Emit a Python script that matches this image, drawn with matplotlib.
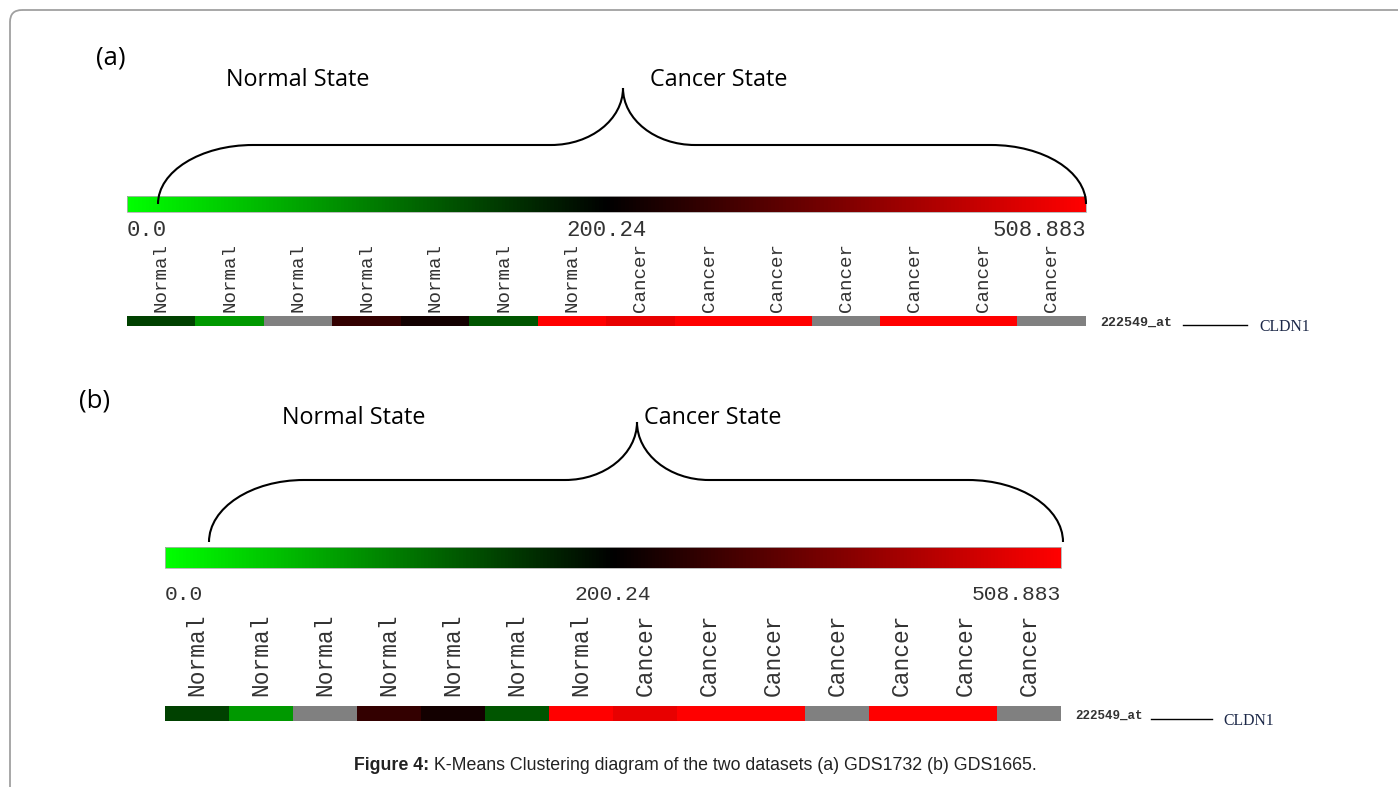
import numpy as np
import matplotlib
matplotlib.use("Agg")
import matplotlib.pyplot as plt
from matplotlib.colors import LinearSegmentedColormap, TwoSlopeNorm
from matplotlib.cm import ScalarMappable
from matplotlib.path import Path
from matplotlib.patches import PathPatch, FancyBboxPatch

# ---------------- data ----------------
samples = ["Normal"] * 7 + ["Cancer"] * 7
scale_ticks = [0.0, 200.24, 508.883]
scale_labels = ["0.0", "200.24", "508.883"]
# CLDN1 (probe 222549_at) expression per sample; NaN = missing value
expr_gds1732 = [150.0, 80.1, np.nan, 262.0, 222.0, 133.5, 508.883,
                480.0, 508.883, 508.883, np.nan, 508.883, 508.883, np.nan]
expr_gds1665 = [150.0, 80.1, np.nan, 262.0, 222.0, 133.5, 508.883,
                480.0, 508.883, 508.883, np.nan, 508.883, 508.883, np.nan]
probe_id = "222549_at"
gene = "CLDN1"

W, H = 1398, 787
fig = plt.figure(figsize=(W / 100, H / 100), dpi=100)
fig.patch.set_facecolor("white")

cmap = LinearSegmentedColormap.from_list("gbr", ["#00ff00", "#000000", "#ff0000"])
cmap.set_bad("#808080")
norm = TwoSlopeNorm(vmin=scale_ticks[0], vcenter=scale_ticks[1], vmax=scale_ticks[2])


def rect(x0, y0, x1, y1):
    return [x0 / W, 1 - y1 / H, (x1 - x0) / W, (y1 - y0) / H]


mono = "Liberation Mono"
txt_col = "#333333"


def panel(bar, tick_y, heat, values, label_fs, tick_fs, label_pad):
    # colour scale bar
    cax = fig.add_axes(rect(*bar))
    cb = fig.colorbar(ScalarMappable(norm=norm, cmap=cmap), cax=cax,
                      orientation="horizontal")
    cb.set_ticks([])
    cb.outline.set_edgecolor("#b0b0b0")
    cb.outline.set_linewidth(0.6)
    # scale values below the bar
    aligns = ["left", "center", "right"]
    for v, s, ha in zip(scale_ticks, scale_labels, aligns):
        xf = cax.transData.transform((v, 0))[0]
        xr = fig.transFigure.inverted().transform((xf, 0))[0]
        fig.text(xr, 1 - tick_y / H, s, ha=ha, va="center", family=mono,
                 fontsize=tick_fs, color=txt_col)

    # expression row
    hax = fig.add_axes(rect(*heat))
    hax.imshow(np.ma.masked_invalid(np.array(values)[None, :]), cmap=cmap,
               norm=norm, aspect="auto", interpolation="nearest")
    hax.set_yticks([])
    hax.xaxis.tick_top()
    hax.set_xticks(range(len(samples)))
    hax.set_xticklabels(samples, rotation=90, family=mono, fontsize=label_fs,
                        color=txt_col)
    hax.tick_params(axis="x", length=0, pad=label_pad)
    for sp in hax.spines.values():
        sp.set_visible(False)
    return cax, hax


panel((127, 196, 1086, 212), 231, (127, 316, 1086, 326), expr_gds1732,
      13.8, 16, 3)
panel((165, 547, 1061, 568), 594, (165, 706, 1061, 721), expr_gds1665,
      16.5, 15.3, 7)

# overlay for annotations (pixel coordinates)
ov = fig.add_axes([0, 0, 1, 1], zorder=10)
ov.set_xlim(0, W)
ov.set_ylim(H, 0)
ov.axis("off")
ov.patch.set_alpha(0)

frame = FancyBboxPatch((10, 10), 1430, 820, boxstyle="round,pad=0,rounding_size=12",
                       fill=False, edgecolor="#a0a0a0", linewidth=1.3)
ov.add_patch(frame)


def brace(xl, xt, xr, yb, yh, yt, r_out, r_in):
    k = 0.552
    dy_o = yb - yh
    dy_i = yh - yt
    verts = [
        (xl, yb), (xl, yb - k * dy_o), (xl + r_out * (1 - k), yh), (xl + r_out, yh),
        (xt - r_in, yh),
        (xt - r_in + k * r_in, yh), (xt, yt + k * dy_i), (xt, yt),
        (xt, yt + k * dy_i), (xt + r_in - k * r_in, yh), (xt + r_in, yh),
        (xr - r_out, yh),
        (xr - r_out * (1 - k), yh), (xr, yb - k * dy_o), (xr, yb),
    ]
    codes = [Path.MOVETO, Path.CURVE4, Path.CURVE4, Path.CURVE4,
             Path.LINETO,
             Path.CURVE4, Path.CURVE4, Path.CURVE4,
             Path.CURVE4, Path.CURVE4, Path.CURVE4,
             Path.LINETO,
             Path.CURVE4, Path.CURVE4, Path.CURVE4]
    ov.add_patch(PathPatch(Path(verts, codes), fill=False, edgecolor="black",
                           linewidth=1.5))


brace(158, 623, 1086, 204, 145, 88, 95, 72)
brace(209, 637, 1063, 542, 480, 422, 95, 72)

sans = "Open Sans"
ov.text(111, 58, "(a)", ha="center", va="center", family=sans, fontsize=18.5)
ov.text(298, 80, "Normal State", ha="center", va="center", family=sans, fontsize=16.8)
ov.text(719, 80, "Cancer State", ha="center", va="center", family=sans, fontsize=16.8)
ov.text(95, 401, "(b)", ha="center", va="center", family=sans, fontsize=18.5)
ov.text(354, 418, "Normal State", ha="center", va="center", family=sans, fontsize=16.8)
ov.text(713, 418, "Cancer State", ha="center", va="center", family=sans, fontsize=16.8)

# probe / gene labels
for tx, ty, lx0, lx1, ly, gx, gy, fs in [
        (1100, 323, 1183, 1247, 325, 1259, 327, 9.6),
        (1075, 716, 1151, 1212, 719, 1223, 721, 9.0)]:
    ov.text(tx, ty, probe_id, ha="left", va="center", family=mono,
            fontsize=fs, fontweight="bold", color="#333333")
    ov.plot([lx0, lx1], [ly, ly], color="black", linewidth=1)
    ov.text(gx, gy, gene, ha="left", va="center", family="Liberation Serif",
            fontsize=11.3, color="#1c2848")

# caption: bold prefix + regular text, centred as one line
cap_bold = "Figure 4:"
cap_rest = " K-Means Clustering diagram of the two datasets (a) GDS1732 (b) GDS1665."
cap_y = 765
renderer = fig.canvas.get_renderer()
t1 = ov.text(0, cap_y, cap_bold, ha="left", va="center", family="Liberation Sans",
             fontsize=12.8, fontweight="bold", color="#222222")
t2 = ov.text(0, cap_y, cap_rest, ha="left", va="center", family="Liberation Sans",
             fontsize=12.8, color="#222222")
w1 = t1.get_window_extent(renderer).width
w2 = t2.get_window_extent(renderer).width
x0 = 695 - (w1 + w2) / 2
t1.set_x(x0)
t2.set_x(x0 + w1)

fig.savefig("out.png", dpi=100, facecolor="white")
